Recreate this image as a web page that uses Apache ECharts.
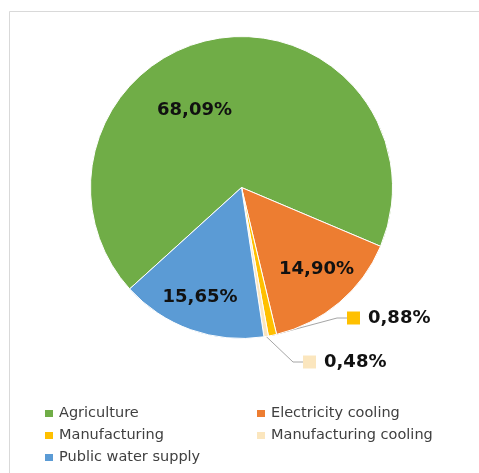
<!DOCTYPE html>
<html>
<head>
<meta charset="utf-8">
<script src="https://cdn.jsdelivr.net/npm/echarts@6/dist/echarts.min.js"></script>
<style>
  html, body { margin: 0; padding: 0; background: #fff; }
  #chart { width: 479px; height: 473px; }
</style>
</head>
<body>
<div id="chart"></div>
<script>
// Water abstraction by sector (% of total)
const categories = ['Agriculture', 'Electricity cooling', 'Manufacturing', 'Manufacturing cooling', 'Public water supply'];
const shares = [68.09, 14.90, 0.88, 0.48, 15.65];
const colors = ['#70AD47', '#ED7D31', '#FFC000', '#FBE6BE', '#5B9BD5'];

// Legend columns
const legendLeft = ['Agriculture', 'Manufacturing', 'Public water supply'];
const legendRight = ['Electricity cooling', 'Manufacturing cooling'];

// Where each percentage label sits (label placement only)
const labelSpots = [
  { x: 194.5, y: 110, align: 'center' },
  { x: 316.5, y: 269.5, align: 'center' },
  { x: 337, y: 318, align: 'left' },
  { x: 293, y: 362, align: 'left' },
  { x: 200, y: 297.5, align: 'center' }
];

const fmt = v => v.toFixed(2).replace('.', ',') + '%';
const SMALL = 2; // slices under this share get an outside label with a leader line

const chart = echarts.init(document.getElementById('chart'), null, { renderer: 'canvas' });

const data = categories.map((name, i) => {
  const small = shares[i] < SMALL;
  return {
    name,
    value: shares[i],
    itemStyle: { color: colors[i] },
    label: small ? {
      position: 'outside',
      padding: [0, 0, 0, 10],
      formatter: () => '{sq|}{gap|}{v|' + fmt(shares[i]) + '}',
      rich: {
        sq: { width: 13, height: 13, backgroundColor: colors[i] },
        gap: { width: 8 },
        v: { fontFamily: 'DejaVu Sans', fontWeight: 'bold', fontSize: 18, color: '#111' }
      }
    } : {
      position: 'inside',
      formatter: () => fmt(shares[i])
    },
    labelLine: { show: small }
  };
});

chart.setOption({
  animation: false,
  backgroundColor: '#ffffff',
  graphic: [{
    type: 'rect',
    silent: true,
    shape: { x: 9.5, y: 11.5, width: 500, height: 500 },
    style: { fill: 'none', stroke: '#d9d9d9', lineWidth: 1 }
  }],
  legend: [
    {
      data: legendLeft,
      orient: 'vertical',
      left: 43, top: 405.5,
      padding: 0,
      itemWidth: 10, itemHeight: 9, itemGap: 6,
      icon: 'rect',
      selectedMode: false,
      textStyle: { fontFamily: 'DejaVu Sans', fontSize: 14.5, lineHeight: 16, color: '#404040' }
    },
    {
      data: legendRight,
      orient: 'vertical',
      left: 255, top: 405.5,
      padding: 0,
      itemWidth: 10, itemHeight: 9, itemGap: 6,
      icon: 'rect',
      selectedMode: false,
      textStyle: { fontFamily: 'DejaVu Sans', fontSize: 14.5, lineHeight: 16, color: '#404040' }
    }
  ],
  series: [{
    type: 'pie',
    center: [241.5, 187.5],
    radius: 151,
    startAngle: 222.2,
    clockwise: true,
    avoidLabelOverlap: false,
    itemStyle: { borderColor: '#ffffff', borderWidth: 1 },
    label: {
      fontFamily: 'DejaVu Sans',
      fontWeight: 'bold',
      fontSize: 18,
      color: '#111'
    },
    labelLine: {
      length: 15, length2: 10,
      lineStyle: { color: '#a6a6a6', width: 1 }
    },
    labelLayout: (p) => {
      const s = labelSpots[p.dataIndex];
      return { x: s.x, y: s.y, align: s.align, verticalAlign: 'middle' };
    },
    emphasis: { disabled: true },
    data
  }]
});
</script>
</body>
</html>
